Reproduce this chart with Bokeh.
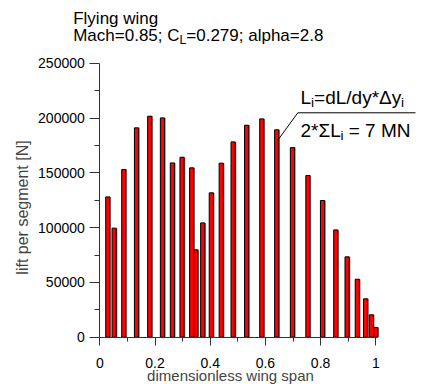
import math
from bokeh.plotting import figure
from bokeh.models import Range1d, FixedTicker, Label, ColumnDataSource, BasicTickFormatter
from bokeh.transform import dodge
from bokeh.embed import file_html
from bokeh.resources import INLINE

# ---- data ----
span_pos = [0.029, 0.052, 0.087, 0.133, 0.181, 0.227, 0.263, 0.298, 0.333, 0.348,
            0.373, 0.404, 0.440, 0.483, 0.532, 0.587, 0.641, 0.698, 0.754, 0.807,
            0.855, 0.896, 0.933, 0.963, 0.984, 1.000]
lift = [128000, 99500, 153000, 191000, 201600, 200100, 159000, 164200, 154500, 79700,
        104300, 131700, 158800, 178200, 193400, 199200, 189200, 173000, 147500, 124700,
        97900, 73300, 52900, 35000, 20400, 8800]
x_ticks = [0, 0.2, 0.4, 0.6, 0.8, 1.0]
x_minor = [0.1, 0.3, 0.5, 0.7, 0.9]
x_tick_labels = ["0", "0.2", "0.4", "0.6", "0.8", "1"]
y_ticks = [0, 50000, 100000, 150000, 200000, 250000]
y_minor = [25000, 75000, 125000, 175000, 225000]
pointed_bar = 16

# ---- layout (page pixels -> data units) ----
W, H = 424, 384
OFF = 0                          # canvas origin on the page
X0_PX, Y0_PX = 99.3, 336.7      # where data (0, 0) sits on the page
PX_PER_X = 276.0
PX_PER_Y = 274.0 / 250000
BASE_FIX = -4                    # correction for label baseline placement
FONT = "Liberation Sans"

def fx(px):
    return (px - X0_PX) / PX_PER_X

def fy(py):
    return (Y0_PX - py) / PX_PER_Y

p = figure(width=W, height=H, output_backend="svg", toolbar_location=None,
           x_range=Range1d(fx(OFF), fx(OFF + W)), y_range=Range1d(fy(OFF + H), fy(OFF)),
           min_border=0)
p.outline_line_color = None
p.xgrid.visible = False
p.ygrid.visible = False
p.background_fill_color = "white"
p.border_fill_color = "white"

src = ColumnDataSource(dict(x=span_pos, top=lift))
BW = 4.2 / PX_PER_X
p.vbar(x=dodge("x", 1.2 / PX_PER_X, range=p.x_range), top="top", width=BW, bottom=0,
       source=src, fill_color="#9a9a9a", line_color=None)
p.vbar(x="x", top="top", width=BW, bottom=0, source=src,
       fill_color="#ff0000", line_color="#000000", line_width=1)

for ax in (p.xaxis[0], p.yaxis[0]):
    ax.fixed_location = 0
    ax.axis_line_color = "#333333"
    ax.major_tick_line_color = "#333333"
    ax.minor_tick_line_color = "#333333"
    ax.major_tick_in = 0
    ax.minor_tick_in = 0
    ax.major_label_text_font = FONT
    ax.major_label_text_font_size = "14px"
    ax.major_label_text_color = "black"

p.xaxis.ticker = FixedTicker(ticks=x_ticks, minor_ticks=x_minor)
p.xaxis.major_label_overrides = dict(zip(x_ticks, x_tick_labels))
p.xaxis.bounds = (0, 1)
p.xaxis.major_tick_out = 8
p.xaxis.minor_tick_out = 4
p.xaxis.major_label_standoff = 13

p.yaxis.ticker = FixedTicker(ticks=y_ticks, minor_ticks=y_minor)
p.yaxis.formatter = BasicTickFormatter(use_scientific=False)
p.yaxis.bounds = (0, 250000)
p.yaxis.major_tick_out = 10
p.yaxis.minor_tick_out = 5
p.yaxis.major_label_standoff = 5

# ---- texts ----
W_EM = {' ': .278, '\u00a0': .278, '*': .389, '.': .278, '/': .278, ';': .278, '=': .584,
        'C': .722, 'L': .556, 'M': .833, 'N': .722, 'F': .611,
        'a': .556, 'c': .5, 'd': .556, 'e': .556, 'g': .556, 'h': .556, 'i': .222,
        'l': .222, 'n': .556, 'p': .556, 'w': .722, 'y': .5, 'r': .333, 's': .5,
        'm': .833, 't': .278, '\u03a3': .6, '\u0394': .65}

def tw(s, size):
    return sum(W_EM.get(c, 0.556) for c in s) * size

def rich(parts, px, py, size):
    x = px
    for txt, sub in parts:
        s = size * 0.72 if sub else size
        dy = size * 0.28 if sub else 0
        p.add_layout(Label(x=fx(x), y=fy(py + dy + BASE_FIX), text=txt, text_font=FONT,
                           text_font_size=f"{s:.1f}px", text_baseline="alphabetic",
                           text_align="left", text_color="black"))
        x += tw(txt, s)

rich([("Flying wing", False)], 72.7, 21.5, 17)
rich([("Mach=0.85; C", False), ("L", True), ("=0.279; alpha=2.8", False)], 72.7, 38.5, 17)
rich([("L", False), ("i", True), ("=dL/dy*\u0394y", False), ("i", True)], 300, 100.5, 19)
rich([("2*\u03a3L", False), ("i", True), ("\u00a0=\u00a07\u00a0MN", False)], 300, 133.5, 19)

p.add_layout(Label(x=fx(230), y=fy(379 + BASE_FIX), text="dimensionless wing span",
                   text_font=FONT, text_font_size="15px", text_align="center",
                   text_baseline="alphabetic"))
p.add_layout(Label(x=fx(22), y=fy(207), text="lift per segment [N]", text_font=FONT,
                   text_font_size="16px", text_align="center", text_baseline="middle",
                   angle=math.pi / 2))

# leader line and underline of the annotation
kx, ky = fx(297.3), fy(112.3)
p.segment(x0=[kx, kx], y0=[ky, ky],
          x1=[fx(415), span_pos[pointed_bar] + 0.004], y1=[ky, lift[pointed_bar] * 0.95],
          line_color="black", line_width=1)

open("out.html", "w").write(file_html(p, INLINE))
